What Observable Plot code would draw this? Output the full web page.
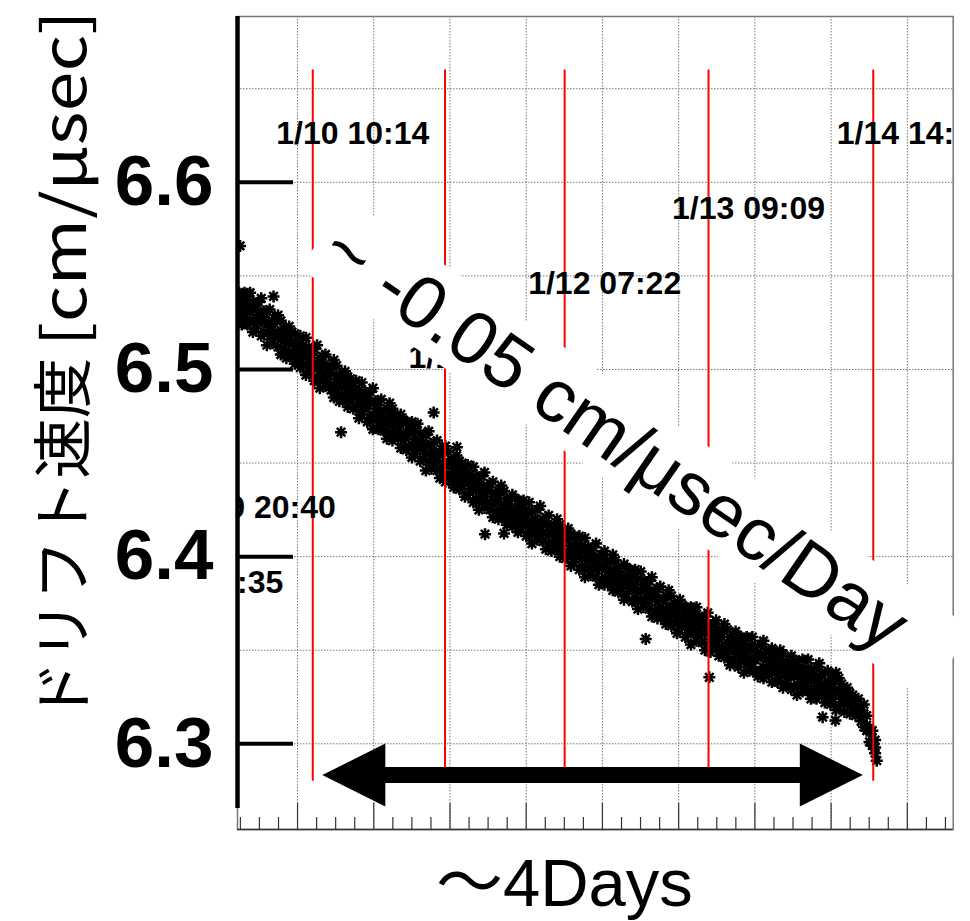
<!DOCTYPE html>
<html><head><meta charset="utf-8">
<script src="https://cdn.jsdelivr.net/npm/d3@7"></script>
<script src="https://cdn.jsdelivr.net/npm/@observablehq/plot@0.6"></script>
<style>html,body{margin:0;padding:0;background:#fff;} svg{display:block}</style>
</head><body><div id="chart"></div>
<script>
// ---- data (x: hours since 1/9 00:00, y: drift velocity cm/μsec) ----
const hours = [21,21.5,22,22.5,23,23.5,24,24.5,25,25.5,26,26.5,27,27.5,28,28.5,29,29.5,30,30.5,
31,31.5,32,32.5,33,33.5,34,34.5,35,35.5,36,36.5,37,37.5,38,38.5,39,39.5,40,40.5,
41,41.5,42,42.5,43,43.5,44,44.5,45,45.5,46,46.5,47,47.5,48,48.5,49,49.5,50,50.5,
51,51.5,52,52.5,53,53.5,54,54.5,55,55.5,56,56.5,57,57.5,58,58.5,59,59.5,60,60.5,
61,61.5,62,62.5,63,63.5,64,64.5,65,65.5,66,66.5,67,67.5,68,68.5,69,69.5,70,70.5,
71,71.5,72,72.5,73,73.5,74,74.5,75,75.5,76,76.5,77,77.5,78,78.5,79,79.5,80,80.5,
81,81.5,82,82.5,83,83.5,84,84.5,85,85.5,86,86.5,87,87.5,88,88.5,89,89.5,90,90.5,
91,91.5,92,92.5,93,93.5,94,94.5,95,95.5,96,96.5,97,97.5,98,98.5,99,99.5,100,100.5,
101,101.5,102,102.5,103,103.5,104,104.5,105,105.5,106,106.5,107,107.5,108,108.5,109,109.5,110,110.5,
111,111.5,112,112.5,113,113.5,114,114.5,115,115.5,116,116.5,117,117.5,118,118.5,119,119.5,120,120.5,
121,121.5,122,122.5,123,123.5,124,124.5,125,125.5,126,126.5,127,127.5,128,128.5,129,129.5,130,130.5,
131,131.5,132,132.5,133,133.5,134,134.5,135];
const driftUpper = [6.541,6.537,6.541,6.537,6.541,6.536,6.532,6.536,6.538,6.531,6.531,6.532,6.526,6.527,6.529,6.526,6.522,6.518,6.523,6.520,
6.519,6.514,6.518,6.513,6.517,6.512,6.508,6.511,6.513,6.506,6.507,6.508,6.501,6.502,6.505,6.502,6.497,6.494,6.499,6.496,
6.495,6.491,6.494,6.489,6.493,6.488,6.484,6.488,6.490,6.483,6.483,6.484,6.478,6.479,6.482,6.479,6.475,6.472,6.476,6.473,
6.472,6.468,6.472,6.467,6.471,6.466,6.461,6.465,6.467,6.460,6.461,6.462,6.456,6.457,6.459,6.456,6.452,6.449,6.454,6.451,
6.450,6.446,6.449,6.444,6.448,6.443,6.439,6.443,6.445,6.438,6.439,6.440,6.434,6.435,6.438,6.435,6.431,6.428,6.433,6.431,
6.430,6.426,6.430,6.425,6.429,6.424,6.420,6.425,6.427,6.420,6.421,6.422,6.416,6.417,6.420,6.417,6.413,6.410,6.415,6.412,
6.411,6.407,6.411,6.406,6.410,6.405,6.401,6.405,6.407,6.400,6.401,6.403,6.397,6.398,6.401,6.398,6.394,6.391,6.396,6.394,
6.393,6.389,6.393,6.388,6.392,6.387,6.383,6.387,6.389,6.382,6.383,6.384,6.378,6.379,6.382,6.379,6.375,6.372,6.377,6.374,
6.373,6.369,6.373,6.369,6.373,6.368,6.364,6.368,6.370,6.363,6.364,6.366,6.360,6.361,6.364,6.361,6.357,6.355,6.360,6.357,
6.357,6.353,6.357,6.352,6.357,6.352,6.349,6.353,6.355,6.349,6.350,6.351,6.346,6.347,6.350,6.348,6.344,6.342,6.347,6.344,
6.344,6.340,6.345,6.340,6.345,6.340,6.337,6.341,6.343,6.337,6.338,6.339,6.333,6.335,6.338,6.335,6.332,6.329,6.330,6.327,
6.326,6.323,6.324,6.320,6.321,6.315,6.308,6.307,6.302];
const driftMid = [6.535,6.531,6.535,6.531,6.531,6.532,6.526,6.529,6.526,6.528,6.524,6.521,6.525,6.520,6.520,6.516,6.520,6.514,6.514,6.515,
6.509,6.511,6.508,6.510,6.507,6.504,6.508,6.502,6.503,6.499,6.503,6.498,6.497,6.498,6.492,6.495,6.491,6.493,6.490,6.487,
6.491,6.486,6.486,6.482,6.486,6.481,6.481,6.482,6.476,6.479,6.475,6.477,6.474,6.471,6.475,6.470,6.471,6.467,6.470,6.465,
6.465,6.466,6.460,6.463,6.460,6.462,6.458,6.455,6.459,6.454,6.455,6.451,6.455,6.450,6.449,6.450,6.444,6.447,6.444,6.446,
6.443,6.440,6.443,6.438,6.439,6.435,6.439,6.434,6.434,6.435,6.429,6.432,6.429,6.431,6.428,6.425,6.429,6.424,6.425,6.422,
6.426,6.421,6.421,6.422,6.416,6.419,6.416,6.419,6.416,6.413,6.417,6.412,6.413,6.409,6.413,6.408,6.408,6.409,6.403,6.406,
6.403,6.405,6.402,6.399,6.403,6.398,6.399,6.395,6.399,6.394,6.394,6.396,6.390,6.393,6.390,6.392,6.389,6.386,6.390,6.386,
6.387,6.383,6.387,6.382,6.382,6.383,6.377,6.380,6.377,6.379,6.376,6.373,6.377,6.372,6.373,6.369,6.373,6.368,6.368,6.369,
6.363,6.366,6.363,6.366,6.363,6.360,6.364,6.359,6.360,6.356,6.360,6.356,6.356,6.357,6.351,6.354,6.351,6.354,6.351,6.348,
6.353,6.348,6.349,6.345,6.350,6.345,6.346,6.347,6.341,6.345,6.342,6.344,6.342,6.339,6.343,6.339,6.340,6.337,6.341,6.336,
6.337,6.338,6.333,6.336,6.334,6.336,6.334,6.331,6.335,6.331,6.332,6.328,6.332,6.328,6.328,6.329,6.324,6.327,6.324,6.325,
6.322,6.318,6.320,6.316,6.316,6.310,6.307,6.301,6.298];
const driftLower = [6.528,6.524,6.528,6.524,6.526,6.520,6.522,6.525,6.518,6.520,6.513,6.518,6.514,6.517,6.512,6.508,6.511,6.506,6.509,6.507,
6.503,6.506,6.501,6.503,6.497,6.499,6.502,6.494,6.496,6.490,6.495,6.491,6.493,6.489,6.485,6.488,6.483,6.486,6.484,6.480,
6.484,6.479,6.480,6.474,6.476,6.479,6.472,6.474,6.468,6.473,6.468,6.471,6.467,6.463,6.466,6.462,6.465,6.463,6.458,6.462,
6.457,6.459,6.453,6.455,6.458,6.451,6.452,6.446,6.451,6.447,6.450,6.446,6.442,6.445,6.440,6.443,6.441,6.437,6.441,6.436,
6.438,6.432,6.433,6.436,6.429,6.431,6.425,6.430,6.426,6.429,6.425,6.421,6.424,6.420,6.423,6.421,6.417,6.421,6.416,6.419,
6.413,6.415,6.418,6.411,6.413,6.407,6.412,6.409,6.412,6.408,6.404,6.407,6.403,6.406,6.404,6.400,6.404,6.399,6.401,6.395,
6.397,6.400,6.393,6.395,6.389,6.394,6.390,6.393,6.389,6.385,6.388,6.385,6.388,6.386,6.382,6.386,6.381,6.383,6.377,6.380,
6.383,6.376,6.378,6.372,6.377,6.373,6.376,6.372,6.368,6.371,6.367,6.370,6.368,6.364,6.368,6.363,6.365,6.359,6.361,6.364,
6.357,6.359,6.353,6.359,6.355,6.358,6.354,6.350,6.353,6.349,6.352,6.351,6.347,6.351,6.346,6.348,6.342,6.345,6.348,6.341,
6.344,6.338,6.343,6.339,6.343,6.339,6.336,6.339,6.335,6.339,6.337,6.333,6.338,6.333,6.335,6.330,6.332,6.336,6.329,6.331,
6.326,6.331,6.328,6.331,6.328,6.324,6.328,6.324,6.327,6.326,6.322,6.326,6.321,6.324,6.318,6.320,6.324,6.317,6.321,6.316,
6.319,6.315,6.316,6.312,6.309,6.307,6.301,6.299,6.295];
const outlierHours = [21.2, 27.2, 39.3, 55.9, 60.05, 65.1, 68.5, 93.9, 105.3, 125.6, 127.9, 135.3];
const outlierDrift = [6.566, 6.539, 6.4665, 6.477, 6.4585, 6.412, 6.4124, 6.356, 6.3355, 6.3142, 6.3125, 6.291];

const yTicks = [6.3, 6.4, 6.5, 6.6];
const yGrid = [6.30, 6.35, 6.40, 6.45, 6.50, 6.55, 6.60, 6.65];
const xMajorTicks = [31.5, 45.16, 58.82, 72.48, 86.14, 99.8, 113.46, 127.12, 140.78];
const xMinorTicks = [21.26, 24.67, 28.09, 34.92, 38.33, 41.75, 48.58, 51.99, 55.41, 62.24, 65.65, 69.07,
  75.9, 79.31, 82.73, 89.56, 92.97, 96.39, 103.22, 106.63, 110.05, 116.88, 120.29, 123.71,
  130.54, 133.95, 137.37, 144.2, 147.61];

const eventHours = [11.58, 20.67, 34.23, 57.93, 79.37, 105.15, 134.67];
const eventLabels = ["1/9 11:35", "1/9 20:40", "1/10 10:14", "1/11 09:56", "1/12 07:22", "1/13 09:09", "1/14 14:40"];
const eventLabelY = [6.38, 6.42, 6.62, 6.50, 6.54, 6.58, 6.62];

const slopeText = "~ -0.05 cm/μsec/Day";
const slopePos = {h: 88.4, v: 6.4636};
const slopeBoxPos = {h: 92.21, v: 6.4577};
const spanText = "〜4Days";
const spanArrow = {from: 35.94, to: 132.8, v: 6.2833};
const yTitleJa = "ドリフト速度";
const yTitleUnit = "[cm/μsec]";

// ---- scales ----
const xDomain = [20.74, 149.0];
const yDomain = [6.2542, 6.6886];
const W = 970, H = 921, mL = 237, mR = 17.3, mT = 16, mB = 92;
const plotW = W - mL - mR, plotH = H - mT - mB;

// ---- symbols ----
const star8 = {draw(ctx) {
  const r = 6, d = r * Math.SQRT1_2;
  ctx.moveTo(-r, 0); ctx.lineTo(r, 0);
  ctx.moveTo(0, -r); ctx.lineTo(0, r);
  ctx.moveTo(-d, -d); ctx.lineTo(d, d);
  ctx.moveTo(-d, d); ctx.lineTo(d, -d);
}};
const headRight = {draw(ctx) { ctx.moveTo(0, 0); ctx.lineTo(-63, -31.5); ctx.lineTo(-63, 31.5); ctx.closePath(); }};
const headLeft = {draw(ctx) { ctx.moveTo(0, 0); ctx.lineTo(63, -31.5); ctx.lineTo(63, 31.5); ctx.closePath(); }};
const boxW = 759, boxH = 85, boxAngle = 34.6 * Math.PI / 180;
const rotBox = {draw(ctx) {
  const c = Math.cos(boxAngle), s = Math.sin(boxAngle);
  const pts = [[-boxW/2, -boxH/2], [boxW/2, -boxH/2], [boxW/2, boxH/2], [-boxW/2, boxH/2]]
    .map(([x, y]) => [x * c - y * s, x * s + y * c]);
  ctx.moveTo(...pts[0]); ctx.lineTo(...pts[1]); ctx.lineTo(...pts[2]); ctx.lineTo(...pts[3]); ctx.closePath();
}};

const points = [];
hours.forEach((h, i) => {
  points.push({h, v: driftUpper[i]}, {h, v: driftMid[i]}, {h, v: driftLower[i]});
});
outlierHours.forEach((h, i) => points.push({h, v: outlierDrift[i]}));
const events = eventHours.map((h, i) => ({h, label: eventLabels[i], ly: eventLabelY[i]}));

const latin = "'Liberation Sans', Arial, Helvetica, sans-serif";
const jp = "'Noto Sans CJK JP', sans-serif";

const chart = Plot.plot({
  width: W, height: H,
  marginLeft: mL, marginRight: mR, marginTop: mT, marginBottom: mB,
  x: {domain: xDomain, axis: null},
  y: {domain: yDomain, axis: null},
  style: {background: "white"},
  marks: [
    Plot.ruleY(yGrid, {y: d => d, stroke: "#777", strokeWidth: 1, strokeDasharray: "1.5,1.5"}),
    Plot.ruleX(xMajorTicks, {x: d => d, stroke: "#777", strokeWidth: 1, strokeDasharray: "1.5,1.5"}),
    Plot.frame({stroke: "#777", strokeWidth: 1.5}),
    Plot.dot(points, {x: "h", y: "v", symbol: star8, fill: "none", stroke: "black", strokeWidth: 2.5, clip: true}),
    Plot.ruleX(events, {x: "h", y1: 6.28, y2: 6.66, stroke: "red", strokeWidth: 2, clip: true}),
    Plot.text(events, {x: "h", y: "ly", text: "label", textAnchor: "start", lineAnchor: "bottom",
      dx: -36.5, dy: -1, fontSize: 32, fontWeight: "bold", fontFamily: latin, fill: "black", clip: true}),
    Plot.dot([slopeBoxPos], {x: "h", y: "v", symbol: rotBox, fill: "white", stroke: "none"}),
    Plot.text([slopePos], {x: "h", y: "v", text: () => slopeText, rotate: 34.6, fontSize: 75,
      fontFamily: latin, fill: "black", textAnchor: "middle", lineAnchor: "middle"}),
    Plot.ruleY([spanArrow], {x1: "from", x2: "to", y: "v", stroke: "black", strokeWidth: 16, insetLeft: 40, insetRight: 40}),
    Plot.dot([spanArrow], {x: "from", y: "v", symbol: headLeft, fill: "black", stroke: "none"}),
    Plot.dot([spanArrow], {x: "to", y: "v", symbol: headRight, fill: "black", stroke: "none"}),
    Plot.tickX(xMinorTicks, {x: d => d, stroke: "#333", strokeWidth: 1.2, insetTop: plotH - 12}),
    Plot.tickX(xMajorTicks, {x: d => d, stroke: "#333", strokeWidth: 1.2, insetTop: plotH - 26}),
    Plot.ruleY([yDomain[0]], {stroke: "#333", strokeWidth: 1.5}),
    Plot.ruleX([xDomain[0]], {stroke: "black", strokeWidth: 4.5, insetBottom: 21}),
    Plot.tickY(yTicks, {y: d => d, stroke: "black", strokeWidth: 4, insetRight: plotW - 56}),
    Plot.text(yTicks, {y: d => d, text: d => d.toFixed(1), frameAnchor: "left", dx: -24, textAnchor: "end",
      fontSize: 71, fontWeight: "bold", fontFamily: latin, fill: "black"}),
    Plot.text([yTitleJa], {text: d => d, frameAnchor: "left", rotate: -90, dx: -153, dy: 298.5,
      textAnchor: "start", lineAnchor: "bottom", fontSize: 60, fontFamily: jp, fill: "black"}),
    Plot.text([yTitleUnit], {text: d => d, frameAnchor: "left", rotate: -90, dx: -152, dy: -76.5,
      textAnchor: "start", lineAnchor: "bottom", fontSize: 60, fontFamily: jp, fill: "black"}),
    Plot.text([spanText], {text: d => d, frameAnchor: "bottom", dx: -31, dy: 76, lineAnchor: "bottom",
      fontSize: 67, fontFamily: latin + ", 'Noto Sans CJK JP'", fill: "black"})
  ]
});
document.getElementById("chart").appendChild(chart);
d3.select(chart).selectAll("text").each(function() {
  if (this.textContent === yTitleJa) {
    this.setAttribute("textLength", 364);
    this.setAttribute("lengthAdjust", "spacingAndGlyphs");
  } else if (this.textContent === yTitleUnit) {
    this.setAttribute("textLength", 336);
    this.setAttribute("lengthAdjust", "spacingAndGlyphs");
  }
});
</script>
</body></html>
